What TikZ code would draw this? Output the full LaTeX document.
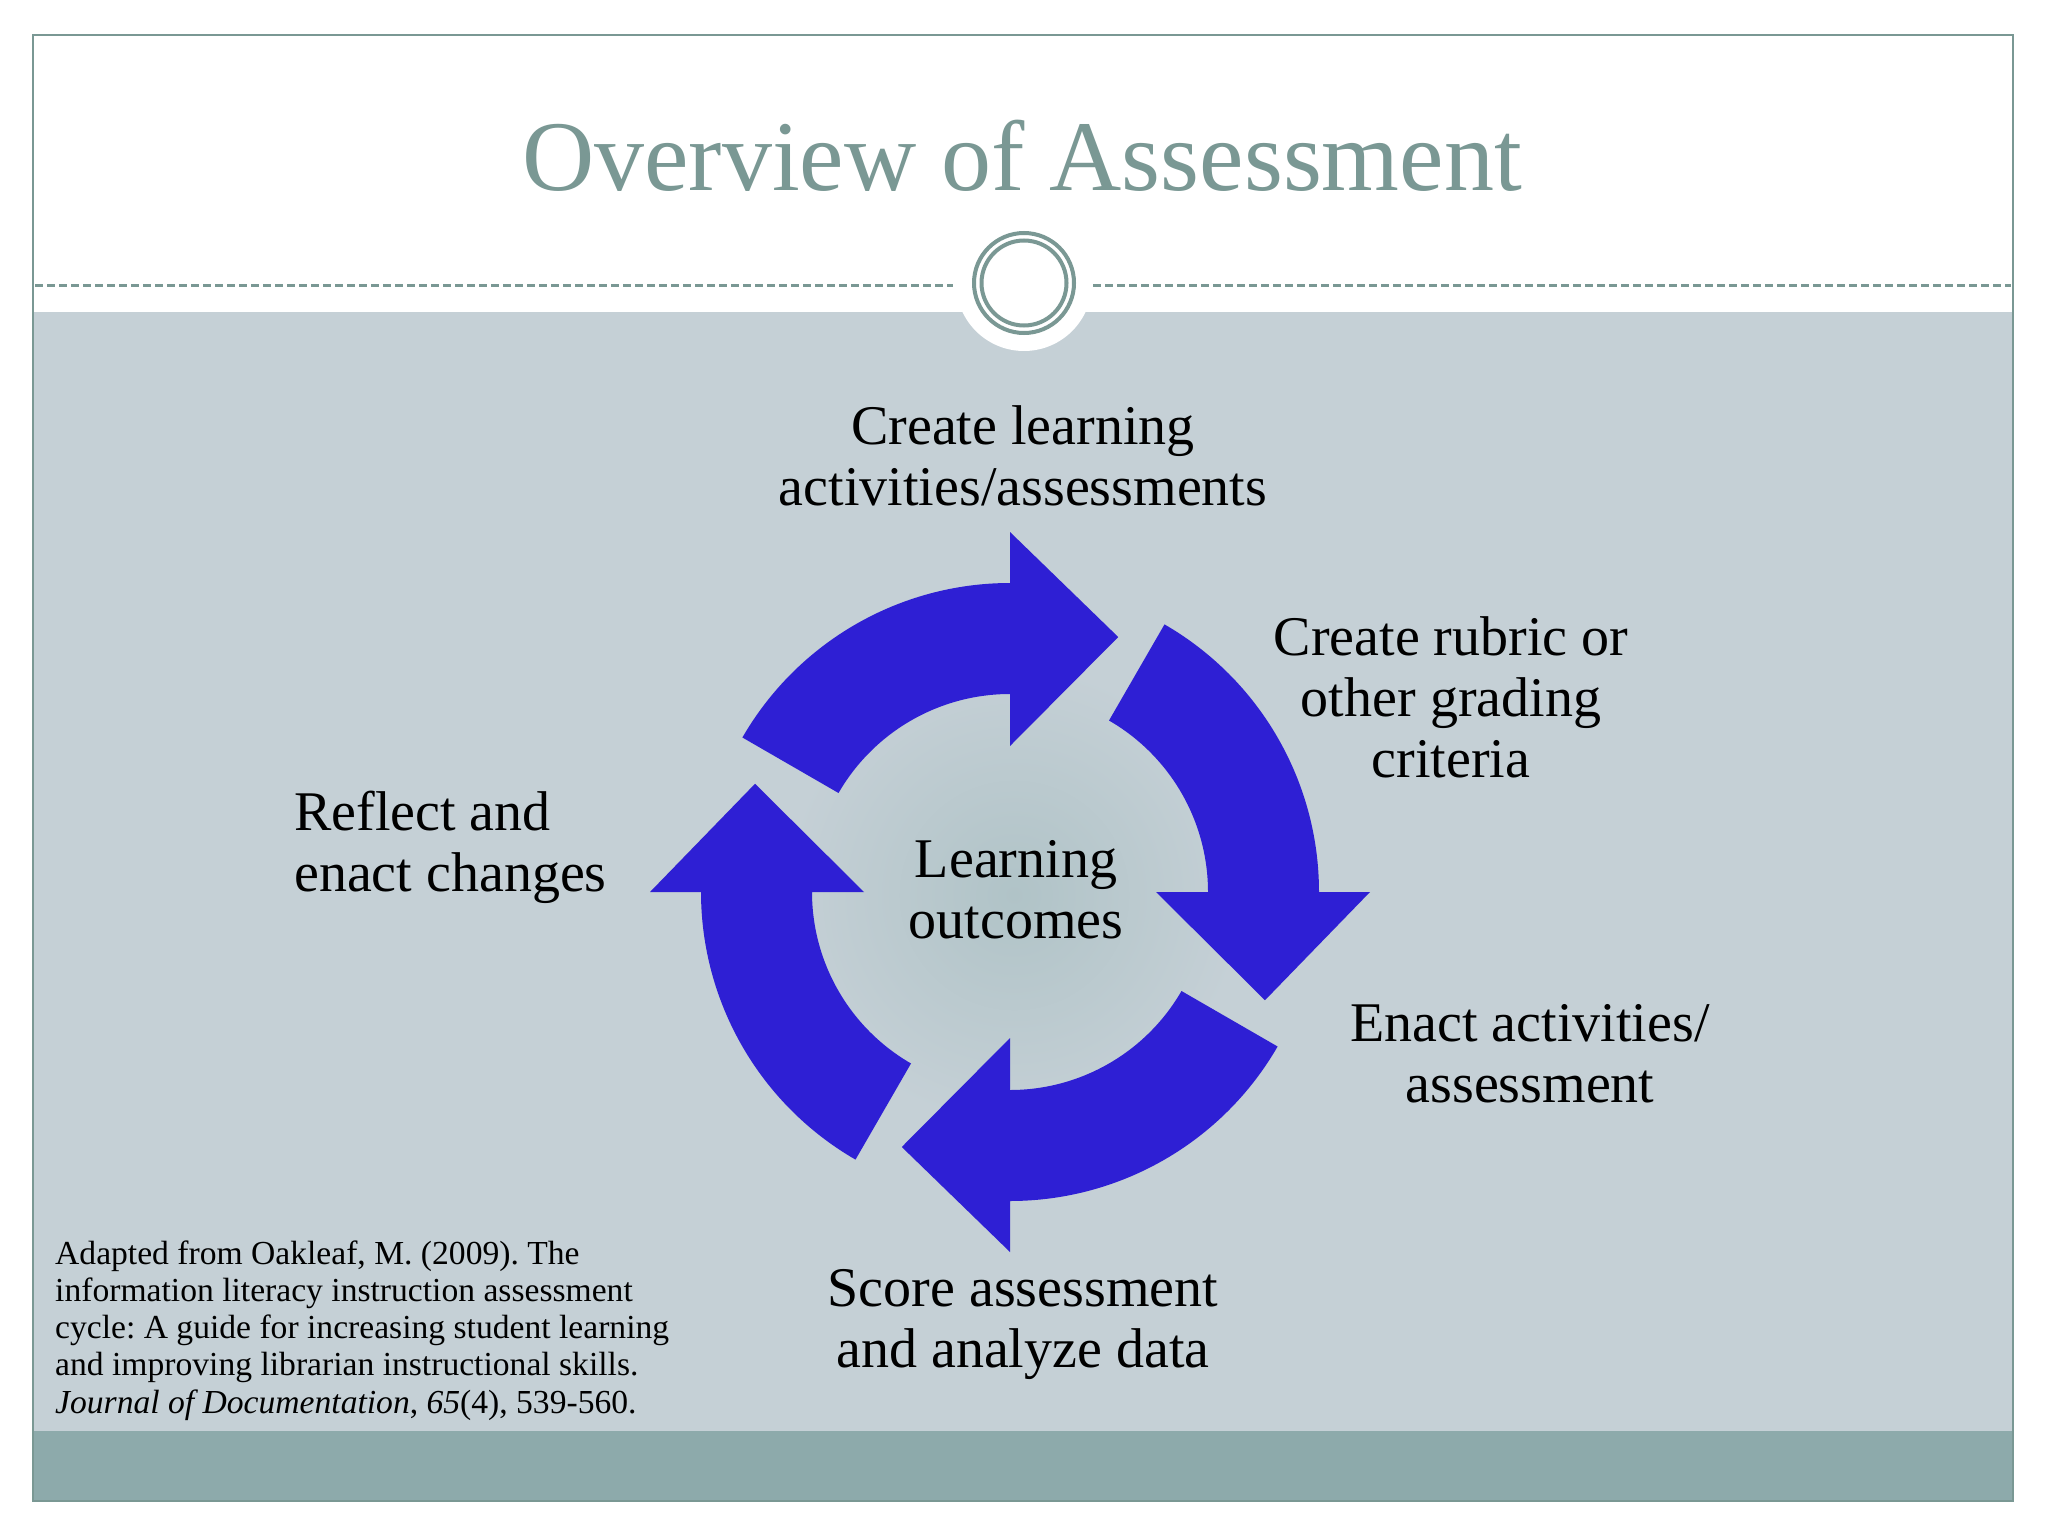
\documentclass[tikz,border=0pt]{standalone}
\usepackage{fontspec}
\setmainfont{Liberation Serif}
\definecolor{framecol}{RGB}{122,152,148}
\definecolor{slidebg}{RGB}{197,208,214}
\definecolor{barcol}{RGB}{141,170,171}
\definecolor{arrowblue}{RGB}{46,31,212}
\definecolor{glowcol}{RGB}{176,195,199}
\tikzset{
  lbl/.style={font=\fontsize{56}{61}\selectfont, align=center, inner sep=0pt, anchor=base},
  cyclearrow/.style={fill=arrowblue},
  ring/.style={draw=framecol, line width=4pt},
  rule/.style={draw=framecol, line width=3pt, dash pattern=on 8pt off 4pt}
}
\begin{document}
\frenchspacing
\begin{tikzpicture}[x=1pt,y=-1pt]
\useasboundingbox (0,0) rectangle (2048,1536);
\fill[white] (0,0) rectangle (2048,1536);
% slide body
\fill[slidebg] (33,312) rectangle (2013,1431);
\fill[barcol] (33,1431) rectangle (2013,1501);
\draw[framecol, line width=2.5pt] (33,35) rectangle (2013,1501);
% ornament
\fill[white] (1024,283) circle[radius=68pt];
\coordinate (rl1) at (35,285);
\coordinate (rl2) at (953,285);
\coordinate (rr1) at (1093,285);
\coordinate (rr2) at (2011,285);
\draw[rule] (rl1) -- (rl2);
\draw[rule] (rr1) -- (rr2);
\draw[ring] (1024,283) circle[radius=50pt];
\draw[ring] (1024,283) circle[radius=42.5pt];
% title
\node (title) at (1022,190) [anchor=base, inner sep=0pt, font=\fontsize{100}{110}\selectfont, text=framecol] {Overview of Assessment};
% glow
\shade[inner color=glowcol, outer color=slidebg] (1014,895) circle[radius=230pt];
% cycle arrows
\begin{scope}[shift={(1010,892)}]
\foreach \b in {90,0,-90,-180}{
  \fill[cyclearrow] (\b+60:309pt) arc[start angle=\b+60, end angle=\b, radius=309pt]
    -- (\b:360pt) -- (\b-23:277pt) -- (\b:146pt) -- (\b:198pt)
    arc[start angle=\b, end angle=\b+60, radius=198pt] -- cycle;
}
\end{scope}
% labels (base anchor = baseline of the last line)
\node[lbl] (create) at (1023,505) {Create learning\\activities/assessments};
\node[lbl] (rubric) at (1451,777) {Create rubric or\\other grading\\criteria};
\node[lbl, align=left, anchor=base west] (reflect) at (294,891) {Reflect and\\enact changes};
\node[lbl] (outcomes) at (1016,938) {Learning\\outcomes};
\node[lbl] (enact) at (1530,1102) {Enact activities/\\assessment};
\node[lbl] (score) at (1023,1367) {Score assessment\\and analyze data};
\node[font=\fontsize{33.6}{37.25}\selectfont, align=left, inner sep=0pt, anchor=base west] (cite) at (55,1413)
  {Adapted from Oakleaf, M. (2009). The\\information literacy instruction assessment\\cycle: A guide for increasing student learning\\and improving librarian instructional skills.\\\textit{Journal of Documentation}, \textit{65}(4), 539-560.};
\end{tikzpicture}
\end{document}
